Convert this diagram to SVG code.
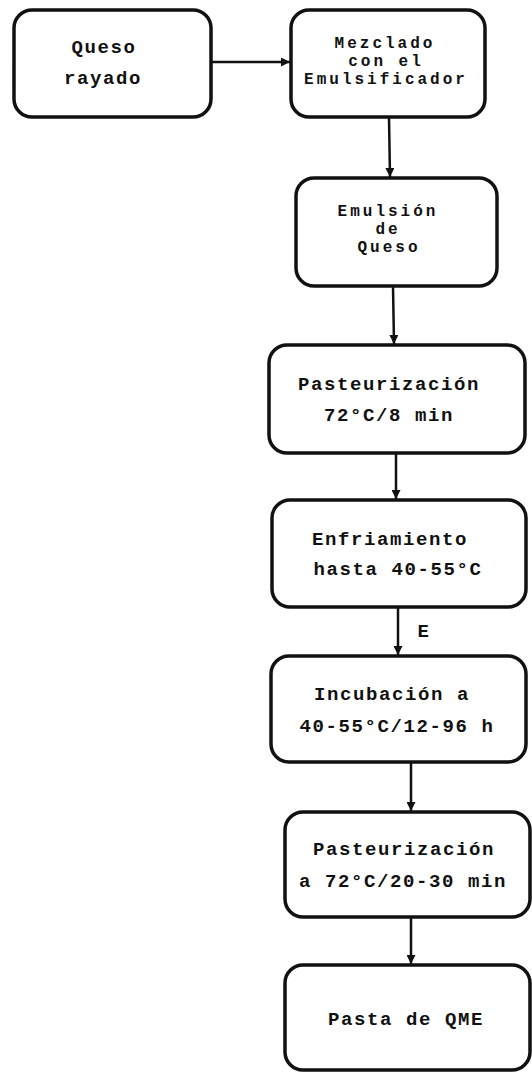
<svg xmlns="http://www.w3.org/2000/svg" width="532" height="1072" viewBox="0 0 532 1072">
  <defs>
    <marker id="arrow" viewBox="0 0 10 10" refX="10" refY="5" markerWidth="4" markerHeight="3.6" orient="auto" markerUnits="strokeWidth">
      <path d="M0,0 L10,5 L0,10 z" fill="#111"/>
    </marker>
    <style>
      .box { fill: #fff; stroke: #111; stroke-width: 3.5; }
      .lbl { font-family: "Liberation Mono", "DejaVu Sans Mono", monospace; font-weight: bold; font-size: 19px; letter-spacing: 1.6px; fill: #111; text-anchor: middle; dominant-baseline: central; }
      .tight { font-size: 16px; letter-spacing: 3px; }
      .conn { stroke: #111; stroke-width: 2.5; fill: none; marker-end: url(#arrow); }
    </style>
  </defs>
  <rect width="532" height="1072" fill="#fff"/>

  <g id="connectors">
    <line class="conn" x1="211" y1="62" x2="290" y2="62"/>
    <line class="conn" x1="389" y1="117" x2="390" y2="177"/>
    <line class="conn" x1="393" y1="286" x2="394" y2="344"/>
    <line class="conn" x1="396" y1="453" x2="396" y2="499"/>
    <line class="conn" x1="398" y1="607" x2="398" y2="655"/>
    <line class="conn" x1="411" y1="762" x2="411" y2="811"/>
    <line class="conn" x1="411" y1="917" x2="411" y2="964"/>
    <text class="lbl" x="424" y="632">E</text>
  </g>

  <g id="queso-rayado">
    <rect class="box" x="14" y="10" width="197" height="107" rx="18"/>
    <text class="lbl" x="104" y="48">Queso</text>
    <text class="lbl" x="103" y="79">rayado</text>
  </g>

  <g id="mezclado">
    <rect class="box" x="291" y="10" width="194" height="107" rx="18"/>
    <text class="lbl tight" x="385" y="44">Mezclado</text>
    <text class="lbl tight" x="386" y="62">con el</text>
    <text class="lbl tight" x="386" y="80">Emulsificador</text>
  </g>

  <g id="emulsion">
    <rect class="box" x="296" y="178" width="201" height="108" rx="18"/>
    <text class="lbl tight" x="388" y="212">Emulsión</text>
    <text class="lbl tight" x="388" y="230">de</text>
    <text class="lbl tight" x="389" y="248">Queso</text>
  </g>

  <g id="pasteurizacion-1">
    <rect class="box" x="269" y="345" width="256" height="108" rx="18"/>
    <text class="lbl" x="389" y="385">Pasteurización</text>
    <text class="lbl" x="389" y="416">72°C/8 min</text>
  </g>

  <g id="enfriamiento">
    <rect class="box" x="272" y="500" width="254" height="107" rx="18"/>
    <text class="lbl" x="390" y="540">Enfriamiento</text>
    <text class="lbl" x="398" y="570">hasta 40-55°C</text>
  </g>

  <g id="incubacion">
    <rect class="box" x="271" y="656" width="255" height="106" rx="18"/>
    <text class="lbl" x="392" y="695">Incubación a</text>
    <text class="lbl" x="397" y="727">40-55°C/12-96 h</text>
  </g>

  <g id="pasteurizacion-2">
    <rect class="box" x="285" y="812" width="245" height="105" rx="18"/>
    <text class="lbl" x="404" y="850">Pasteurización</text>
    <text class="lbl" x="403" y="882">a 72°C/20-30 min</text>
  </g>

  <g id="pasta-qme">
    <rect class="box" x="285" y="965" width="245" height="105" rx="18"/>
    <text class="lbl" x="406" y="1020">Pasta de QME</text>
  </g>
</svg>
